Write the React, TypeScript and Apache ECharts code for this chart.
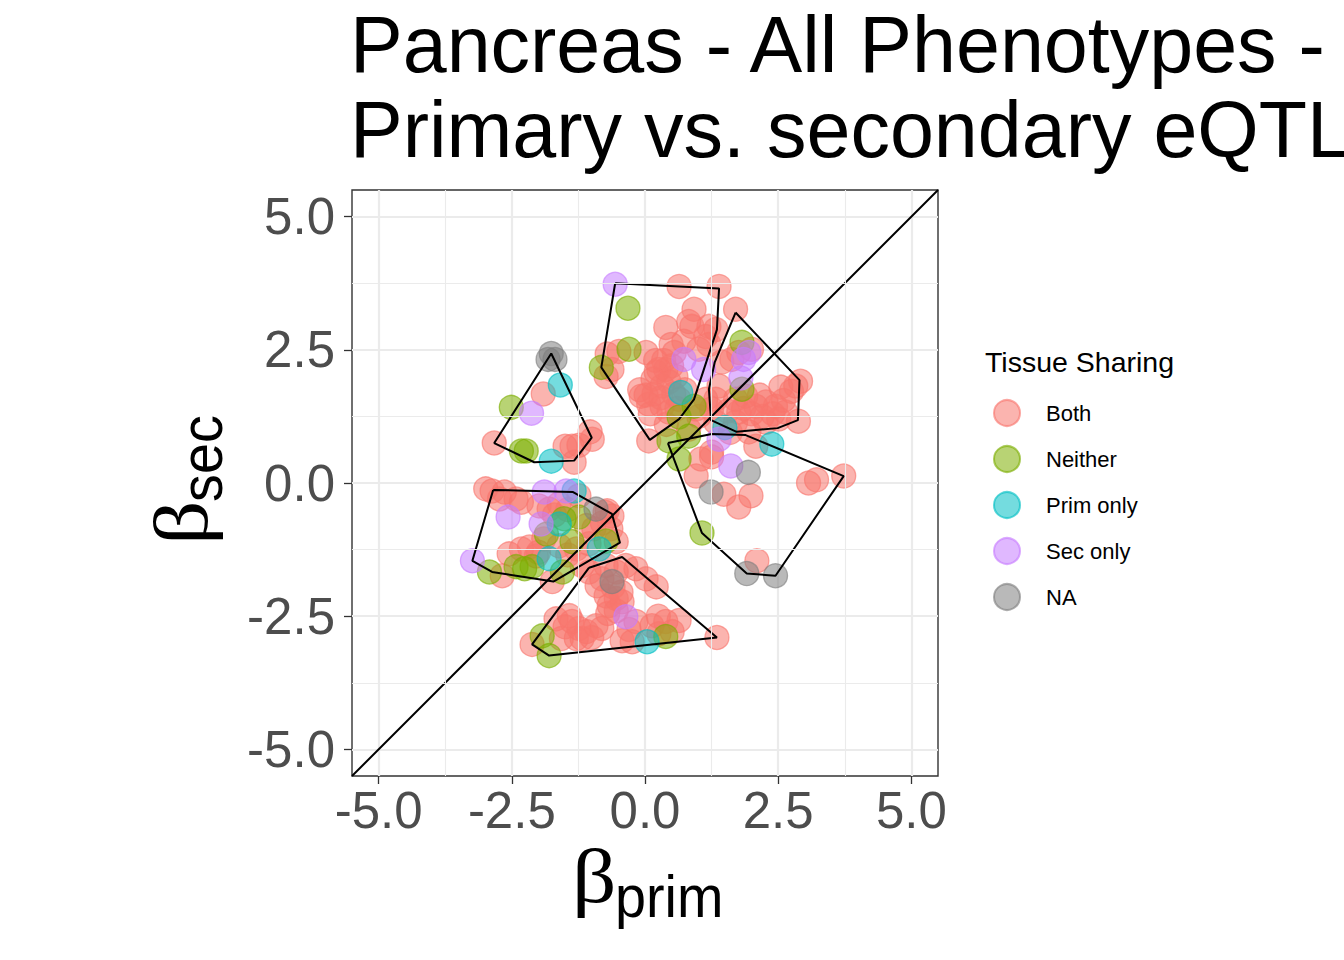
import { useEffect, useRef } from "react";
import * as echarts from "echarts";

const FONT = "'Liberation Sans', Arial, Helvetica, sans-serif";
const SERIF = "'Liberation Serif', 'DejaVu Serif', serif";

const CATEGORIES = ["Both", "Neither", "Prim only", "Sec only", "NA"];
const COLORS = ["248,118,109", "124,174,0", "0,191,196", "199,124,255", "127,127,127"];

const AXIS_MIN = -5.5;
const AXIS_MAX = 5.5;
const TICKS = [-5, -2.5, 0, 2.5, 5];
const MINOR = [-3.75, -1.25, 1.25, 3.75];

// points per tissue sharing category, [beta_prim, beta_sec]
const BOTH = [
  [-1.91, 1.67], [-2.83, 0.75], [-1.5, 0.69], [-1.37, 0.69], [-1.24, 0.71], [-1.03, 0.96], [-0.99, 0.82], [-1.33, 0.39],
  [0.64, 3.69], [1.39, 3.69], [0.92, 3.26], [1.7, 3.26], [0.39, 2.92], [0.82, 3.03], [0.88, 2.94], [1.2, 2.94], [1.33, 2.88], [1.14, 2.75],
  [-0.71, 2.42], [-0.62, 2.13], [-0.73, 2.0], [0.02, 2.45], [0.39, 2.13], [0.21, 2.08], [0.58, 2.0], [0.32, 1.82], [0.26, 2.13],
  [-0.07, 1.63], [0.45, 1.33], [0.32, 1.44], [0.07, 0.79], [0.82, 1.01], [1.01, 1.25], [1.25, 1.39], [1.33, 1.57], [1.39, 1.82], [1.25, 0.58],
  [-0.49, 2.47], [0.07, 1.48], [0.17, 1.67], [0.49, 2.6], [0.73, 2.66], [1.01, 2.51], [1.2, 2.6], [0.54, 1.67],
  [0.35, 2.3], [0.5, 2.2], [0.15, 1.95], [0.45, 1.9], [0.3, 1.6], [0.6, 1.4], [0.1, 1.3], [0.4, 1.1], [0.75, 1.75], [0.2, 2.3], [0.55, 2.45], [-0.1, 1.75],
  [1.76, 2.45], [2.0, 2.51], [1.63, 2.32], [1.44, 2.27], [2.55, 1.8], [2.75, 1.72], [2.92, 1.91], [1.7, 1.57], [1.89, 1.63], [2.08, 1.44],
  [2.27, 1.52], [2.45, 1.44], [2.64, 1.33], [2.51, 1.2], [2.88, 1.16], [2.27, 1.14], [1.7, 1.14], [1.95, 0.96], [2.08, 0.69],
  [2.0, 1.3], [2.2, 1.25], [2.4, 1.3], [1.85, 1.4], [2.6, 1.55], [2.15, 1.65], [1.55, 1.35], [1.6, 0.95],
  [3.07, 0.0], [3.22, 0.06], [3.73, 0.13],
  [0.02, 1.65], [1.25, 0.49], [0.96, 0.13], [1.48, -0.21], [1.76, -0.45], [1.99, -0.24], [2.1, -1.46], [0.64, 1.57], [0.96, 1.39],
  [1.14, 1.57], [1.33, 1.14], [1.76, 1.33], [2.83, 1.82], [1.05, 0.45],
  [-2.87, -0.15], [-2.64, -0.17], [-2.42, -0.3], [-2.32, -0.36], [-1.24, -0.24], [-1.99, -0.43], [-1.8, -0.49], [-0.71, -0.52],
  [-0.62, -0.62], [-0.54, -1.1], [-2.17, -1.2], [-2.32, -1.24], [-2.55, -1.33], [-2.04, -1.37], [-2.68, -1.74], [-1.74, -1.85],
  [-1.61, -1.18], [-1.29, -1.24], [-1.05, -1.14], [-1.18, -1.55], [-2.99, -0.11], [-2.73, -0.3], [-0.96, -0.86], [-0.64, -0.86], [-1.61, -0.39],
  [-1.7, -0.6], [-1.45, -0.5], [-1.1, -0.8], [-0.8, -0.75], [-1.9, -1.05], [-2.0, -1.3], [-1.45, -1.35], [-0.75, -0.55],
  [-1.05, -1.67], [-0.73, -1.55], [-0.54, -1.67], [-0.36, -1.55], [-0.17, -1.61], [0.02, -1.8], [0.21, -1.95], [-0.73, -2.12],
  [-0.54, -2.17], [-0.43, -2.23], [-0.67, -2.3], [-0.54, -2.4], [-1.67, -2.55], [-1.42, -2.49], [-1.37, -2.6], [-1.24, -2.73],
  [-1.1, -2.79], [-0.92, -2.68], [-0.81, -2.73], [-1.29, -2.92], [-1.18, -2.92], [-0.17, -2.6], [0.13, -2.68], [0.39, -2.6],
  [0.64, -2.58], [0.26, -2.83], [0.51, -2.79], [-0.43, -2.96], [-0.24, -2.98], [1.35, -2.9], [-2.12, -3.03], [-1.57, -2.92],
  [-0.9, -1.93], [-0.81, -1.8],
  [-0.6, -1.95], [-0.45, -2.05], [-0.7, -2.45], [-1.5, -2.7], [-1.0, -2.9], [-0.3, -2.75], [0.25, -2.5],
];
const NEITHER = [
  [-0.32, 3.28], [-2.51, 1.42], [-2.32, 0.6], [-2.23, 0.6], [-0.3, 2.51], [-0.82, 2.17], [0.64, 1.24], [0.92, 1.44], [0.45, 0.79],
  [0.64, 0.45], [0.82, 0.88], [1.82, 2.64], [1.82, 1.76], [1.07, -0.94], [-1.85, -0.96], [-1.24, -0.64], [-1.37, -1.1], [-0.73, -1.09],
  [-2.12, -1.57], [-2.42, -1.57], [-2.26, -1.61], [-2.92, -1.67], [-1.55, -1.67], [-1.52, -0.67], [0.39, -2.88], [-1.93, -2.87], [-1.8, -3.24],
];
const PRIM_ONLY = [
  [-1.59, 1.84], [-1.76, 0.41], [0.67, 1.7], [1.5, 1.04], [2.38, 0.73], [-1.33, -0.15], [-1.61, -0.77], [-0.86, -1.24], [-1.8, -1.42], [0.04, -2.98],
];
const SEC_ONLY = [
  [-0.56, 3.73], [-2.13, 1.31], [0.73, 2.32], [1.1, 2.13], [1.39, 0.82], [1.61, 0.32], [1.95, 2.45], [1.8, 1.97], [1.85, 2.32],
  [-1.89, -0.17], [-1.48, -0.15], [-2.57, -0.64], [-1.95, -0.77], [-3.24, -1.46], [-0.36, -2.51],
];
const NA_POINTS = [
  [-1.76, 2.43], [-1.82, 2.32], [-1.69, 2.32], [1.94, 0.2], [1.24, -0.17], [-0.92, -0.49], [1.91, -1.7], [2.45, -1.74], [-0.62, -1.85],
];
const POINTS = [BOTH, NEITHER, PRIM_ONLY, SEC_ONLY, NA_POINTS];

// cluster hulls
const HULL_A = [[-1.76, 2.43], [-1.0, 0.85], [-1.33, 0.42], [-2.08, 0.39], [-2.83, 0.75]];
const HULL_B = [[-0.56, 3.75], [1.39, 3.65], [1.35, 2.88], [0.92, 1.57], [0.64, 1.2], [0.09, 0.81], [-0.82, 2.17]];
const HULL_C = [[1.7, 3.2], [2.9, 1.93], [2.87, 1.18], [2.49, 1.03], [1.72, 0.96], [1.24, 1.18], [1.2, 1.76], [1.31, 2.27]];
const HULL_D = [[0.43, 0.75], [1.25, 0.92], [1.89, 0.9], [3.73, 0.13], [2.45, -1.74], [1.91, -1.7], [1.07, -0.94]];
const HULL_E = [[-2.85, -0.13], [-1.35, -0.17], [-0.62, -0.58], [-0.47, -1.12], [-1.72, -1.85], [-2.87, -1.67], [-3.24, -1.46]];
const HULL_F = [[-1.05, -1.59], [-0.43, -1.39], [1.35, -2.9], [-1.8, -3.24], [-2.12, -3.03]];
const HULLS = [HULL_A, HULL_B, HULL_C, HULL_D, HULL_E, HULL_F];

export default function App() {
  const ref = useRef<HTMLDivElement>(null);
  useEffect(() => {
    document.body.style.margin = "0";
    if (!ref.current) return;
    const chart = echarts.init(ref.current, undefined, { renderer: "svg" });

    const axisCommon = {
      type: "value" as const,
      min: AXIS_MIN,
      max: AXIS_MAX,
      axisLine: { show: false, onZero: false },
      axisTick: { show: true, length: 8, customValues: TICKS, lineStyle: { color: "#333333", width: 1.3 } },
      splitLine: { show: true, lineStyle: { color: "#EBEBEB", width: 2.2 } },
    };
    const labelCommon = {
      customValues: TICKS,
      formatter: (v: number) => v.toFixed(1),
      fontSize: 51,
      color: "#4D4D4D",
      fontFamily: FONT,
    };

    const scatterSeries = CATEGORIES.map((name, i) => ({
      name,
      type: "scatter",
      data: POINTS[i],
      symbol: "circle",
      symbolSize: 24,
      z: 3,
      itemStyle: {
        color: `rgba(${COLORS[i]},0.68)`,
        borderColor: `rgba(${COLORS[i]},0.8)`,
        borderWidth: 1.3,
      },
    }));

    const hullSeries = HULLS.map((h, i) => ({
      name: "hull" + i,
      type: "line",
      data: [...h, h[0]],
      symbol: "none",
      silent: true,
      z: 4,
      lineStyle: { color: "#000", width: 2 },
    }));

    const option: any = {
      animation: false,
      backgroundColor: "#ffffff",
      grid: { left: 352, top: 190, width: 586, height: 586, show: true, borderColor: "#333333", borderWidth: 1.4, backgroundColor: "transparent" },
      xAxis: { ...axisCommon, axisLabel: { ...labelCommon, margin: 9 } },
      yAxis: { ...axisCommon, axisLabel: { ...labelCommon, margin: 17 } },
      legend: {
        orient: "vertical",
        left: 993,
        top: 399,
        padding: 0,
        itemWidth: 26,
        itemHeight: 26,
        itemGap: 18,
        icon: "circle",
        selectedMode: false,
        data: CATEGORIES,
        textStyle: { fontSize: 22, color: "#000", fontFamily: FONT, padding: [0, 0, 0, 21] },
      },
      graphic: [
        { type: "text", x: 350, y: 44, style: { text: "Pancreas - All Phenotypes -", fontSize: 79, fontFamily: FONT, fill: "#000", align: "left", verticalAlign: "middle" } },
        { type: "text", x: 350, y: 129, style: { text: "Primary vs. secondary eQTL", fontSize: 79, fontFamily: FONT, fill: "#000", align: "left", verticalAlign: "middle" } },
        { type: "text", x: 985, y: 362, style: { text: "Tissue Sharing", fontSize: 28.5, fontFamily: FONT, fill: "#000", align: "left", verticalAlign: "middle" } },
        {
          type: "group", x: 572, y: 903,
          children: [
            { type: "text", x: 0, y: -27, scaleX: 1.15, style: { text: "β", fontSize: 76, fontFamily: SERIF, fill: "#000", align: "left", verticalAlign: "middle" } },
            { type: "text", x: 43, y: -7, scaleX: 0.93, style: { text: "prim", fontSize: 60, fontFamily: FONT, fill: "#000", align: "left", verticalAlign: "middle" } },
          ],
        },
        {
          type: "group", x: 208, y: 545, rotation: Math.PI / 2,
          children: [
            { type: "text", x: 0, y: -27, scaleX: 1.15, style: { text: "β", fontSize: 76, fontFamily: SERIF, fill: "#000", align: "left", verticalAlign: "middle" } },
            { type: "text", x: 43, y: -7, scaleX: 0.93, style: { text: "sec", fontSize: 60, fontFamily: FONT, fill: "#000", align: "left", verticalAlign: "middle" } },
          ],
        },
      ],
      series: [
        {
          name: "minor grid",
          type: "scatter",
          data: [],
          z: 1,
          silent: true,
          markLine: {
            silent: true,
            symbol: "none",
            animation: false,
            label: { show: false },
            lineStyle: { color: "#EBEBEB", width: 1.1, type: "solid" },
            data: [...MINOR.map((v) => ({ xAxis: v })), ...MINOR.map((v) => ({ yAxis: v }))],
          },
        },
        ...scatterSeries,
        ...hullSeries,
        {
          name: "identity",
          type: "line",
          data: [[AXIS_MIN, AXIS_MIN], [AXIS_MAX, AXIS_MAX]],
          symbol: "none",
          silent: true,
          z: 4,
          lineStyle: { color: "#000", width: 2 },
        },
      ],
    };
    chart.setOption(option);
    return () => chart.dispose();
  }, []);
  return <div ref={ref} style={{ width: 1344, height: 960 }} />;
}
